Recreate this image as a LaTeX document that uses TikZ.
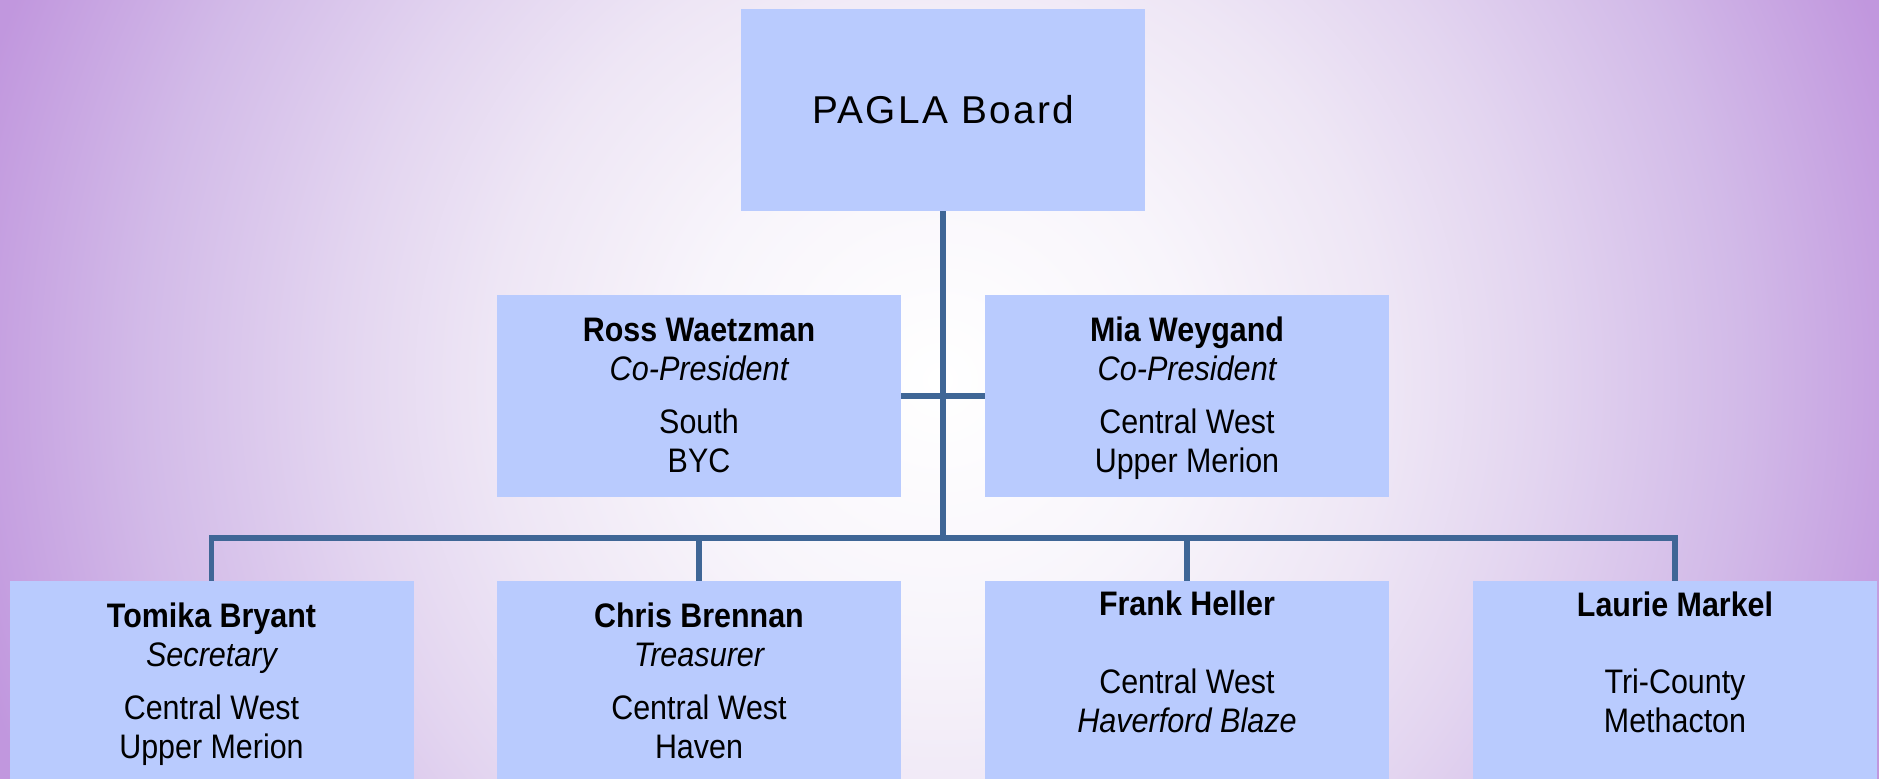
\documentclass[tikz,border=0pt]{standalone}
\usepackage{fontspec}
\setmainfont{Liberation Sans}[FakeStretch=0.895, ItalicFeatures={FakeStretch=0.9}]
\newfontfamily\boardfont{Liberation Sans}[LetterSpace=6]
\definecolor{bgA}{HTML}{F8F5FB}
\definecolor{bgB}{HTML}{EEE6F5}
\definecolor{bgC}{HTML}{E3D5F0}
\definecolor{bgD}{HTML}{D2BAE8}
\definecolor{bgE}{HTML}{C197DE}
\definecolor{boxfill}{HTML}{B9CBFE}
\definecolor{linecol}{HTML}{3F6696}
\pgfdeclareradialshading{bgshade}{\pgfpoint{0bp}{0bp}}{color(0bp)=(white); color(6.25bp)=(bgA); color(11.25bp)=(bgB); color(15bp)=(bgC); color(20bp)=(bgD); color(25bp)=(bgE); color(50bp)=(bgE)}
\begin{document}
\begin{tikzpicture}[x=0.5pt,y=-0.5pt,
  box/.style={rectangle, fill=boxfill, draw=none, minimum width=202pt, minimum height=101pt, inner sep=0pt},
  conn/.style={draw=linecol, line width=2.6pt},
  txt/.style={inner sep=0pt, anchor=base, font=\fontsize{17pt}{19.5pt}\selectfont},
  nametxt/.style={inner sep=0pt, anchor=base, font=\fontsize{17pt}{19.5pt}\selectfont\bfseries},
  roletxt/.style={inner sep=0pt, anchor=base, font=\fontsize{17pt}{19.5pt}\selectfont\itshape}]
\useasboundingbox (0,0) rectangle (1879,778);
\clip (0,0) rectangle (1879,778);
\shade[shading=bgshade] (-60,-620) rectangle (1940,1380);

% boxes
\node[box] (board) at (943,110) {};
\node[box] (ross) at (699,396) {};
\node[box] (mia) at (1187,396) {};
\node[box] (tomika) at (211.5,682) {};
\node[box] (chris) at (699,682) {};
\node[box] (frank) at (1187,682) {};
\node[box] (laurie) at (1675,682) {};

% connectors
\coordinate (bus) at (943,538);
\draw[conn] (board.south) -- (bus);
\draw[conn] (ross.east) -- (mia.west);
\draw[conn] (tomika.north) -- (tomika.north |- bus) -- (laurie.north |- bus) -- (laurie.north);
\draw[conn] (chris.north |- bus) -- (chris.north);
\draw[conn] (frank.north |- bus) -- (frank.north);

% texts
\node[inner sep=0pt, anchor=base, font=\boardfont\fontsize{19.4pt}{23pt}\selectfont] (boardtxt) at (943,123) {PAGLA Board};

\node[nametxt] (rossname) at (699,341) {Ross Waetzman};
\node[roletxt] (rossrole) at (699,380) {Co-President};
\node[txt] (rossloc) at (699,433) {South};
\node[txt] (rossteam) at (699,472) {BYC};

\node[nametxt] (mianame) at (1187,341) {Mia Weygand};
\node[roletxt] (miarole) at (1187,380) {Co-President};
\node[txt] (mialoc) at (1187,433) {Central West};
\node[txt] (miateam) at (1187,472) {Upper Merion};

\node[nametxt] (tomikaname) at (211.5,627) {Tomika Bryant};
\node[roletxt] (tomikarole) at (211.5,666) {Secretary};
\node[txt] (tomikaloc) at (211.5,719) {Central West};
\node[txt] (tomikateam) at (211.5,758) {Upper Merion};

\node[nametxt] (chrisname) at (699,627) {Chris Brennan};
\node[roletxt] (chrisrole) at (699,666) {Treasurer};
\node[txt] (chrisloc) at (699,719) {Central West};
\node[txt] (christeam) at (699,758) {Haven};

\node[nametxt] (frankname) at (1187,615) {Frank Heller};
\node[txt] (frankloc) at (1187,693) {Central West};
\node[roletxt] (frankteam) at (1187,732) {Haverford Blaze};

\node[nametxt] (lauriename) at (1675,616) {Laurie Markel};
\node[txt] (laurieloc) at (1675,693) {Tri-County};
\node[txt] (laurieteam) at (1675,732) {Methacton};
\end{tikzpicture}
\end{document}
